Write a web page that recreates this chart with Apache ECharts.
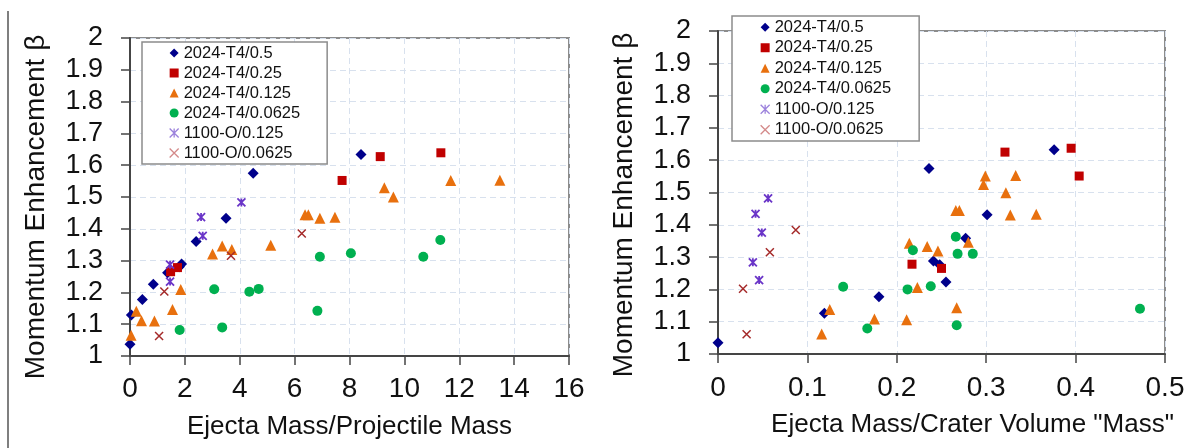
<!DOCTYPE html>
<html>
<head>
<meta charset="utf-8">
<title>Momentum enhancement vs ejecta mass</title>
<script src="https://cdn.jsdelivr.net/npm/echarts@6/dist/echarts.min.js"></script>
<style>
    html, body {margin: 0; padding: 0; background: #fff;}
    #chart {width: 1199px; height: 448px;}
</style>
</head>
<body>
<div id="chart"></div>
<script>
// Series (legend) names
let seriesNames = ['2024-T4/0.5', '2024-T4/0.25', '2024-T4/0.125', '2024-T4/0.0625', '1100-O/0.125', '1100-O/0.0625'];

// Left chart: [ejecta mass / projectile mass, beta]
let leftT4_05 = [[0, 1.037], [0.05, 1.129], [0.45, 1.178], [0.85, 1.226], [1.37, 1.262], [1.8, 1.281], [1.88, 1.289], [2.41, 1.36], [3.5, 1.433], [4.49, 1.575], [8.42, 1.634]];
let leftT4_025 = [[1.48, 1.265], [1.73, 1.278], [7.73, 1.552], [9.12, 1.627], [11.33, 1.639]];
let leftT4_0125 = [[0.04, 1.065], [0.23, 1.141], [0.42, 1.111], [0.89, 1.11], [1.55, 1.146], [1.85, 1.209], [3.01, 1.321], [3.36, 1.346], [3.71, 1.335], [5.13, 1.348], [6.38, 1.444], [6.5, 1.444], [6.92, 1.433], [7.47, 1.436], [9.27, 1.529], [9.6, 1.5], [11.69, 1.552], [13.48, 1.553]];
let leftT4_00625 = [[1.81, 1.082], [3.07, 1.21], [3.36, 1.09], [4.35, 1.202], [4.69, 1.211], [6.83, 1.142], [6.92, 1.312], [8.05, 1.323], [10.69, 1.312], [11.31, 1.365]];
let left1100_0125 = [[1.46, 1.234], [1.46, 1.287], [2.59, 1.437], [2.65, 1.378], [4.06, 1.483]];
let left1100_00625 = [[1.06, 1.063], [1.25, 1.203], [3.68, 1.315], [6.26, 1.385]];

// Right chart: [ejecta mass / crater volume "mass", beta]
let rightT4_05 = [[0, 1.035], [0.119, 1.126], [0.18, 1.177], [0.255, 1.223], [0.241, 1.288], [0.248, 1.276], [0.277, 1.358], [0.301, 1.431], [0.236, 1.574], [0.376, 1.632]];
let rightT4_025 = [[0.217, 1.278], [0.25, 1.265], [0.321, 1.625], [0.395, 1.637], [0.404, 1.551]];
let rightT4_0125 = [[0.116, 1.062], [0.125, 1.138], [0.175, 1.108], [0.211, 1.106], [0.214, 1.343], [0.223, 1.206], [0.234, 1.333], [0.246, 1.319], [0.267, 1.143], [0.266, 1.444], [0.27, 1.444], [0.28, 1.346], [0.297, 1.525], [0.299, 1.551], [0.322, 1.499], [0.327, 1.43], [0.333, 1.553], [0.356, 1.433]];
let rightT4_00625 = [[0.14, 1.208], [0.167, 1.079], [0.212, 1.2], [0.218, 1.321], [0.238, 1.21], [0.266, 1.363], [0.268, 1.31], [0.267, 1.089], [0.285, 1.31], [0.472, 1.14]];
let right1100_0125 = [[0.039, 1.284], [0.046, 1.229], [0.049, 1.376], [0.042, 1.434], [0.056, 1.482]];
let right1100_00625 = [[0.032, 1.061], [0.028, 1.202], [0.058, 1.315], [0.087, 1.384]];

let fontFamily = '"Liberation Sans", Arial, sans-serif';
let axisColor = '#454545';
let textColor = '#111';

// marker look for each series, same order as seriesNames
let markers = [
    {symbol: 'diamond', size: 11, color: '#00008b'},
    {symbol: 'rect', size: 9, color: '#c00000'},
    {symbol: 'triangle', size: 11, color: '#e8700e'},
    {symbol: 'circle', size: 10, color: '#00b050'},
    {symbol: 'path://M0,0L10,10M10,0L0,10M5,0L5,10', size: 8, color: '#6a35c8', stroke: 1.8, legendColor: '#9c82dc'},
    {symbol: 'path://M0,0L10,10M10,0L0,10', size: 8, color: '#a52a2a', stroke: 1.5, legendColor: '#d48a8a'}
];

function buildSeries(datasets, axisIndex) {
    return datasets.map(function (data, i) {
        let m = markers[i];
        let style = {color: m.color, opacity: 1};
        if (m.stroke) {
            style.borderColor = m.color;
            style.borderWidth = m.stroke;
        }
        return {
            name: seriesNames[i],
            type: 'scatter',
            xAxisIndex: axisIndex,
            yAxisIndex: axisIndex,
            symbol: m.symbol,
            symbolSize: m.size,
            itemStyle: style,
            emphasis: {disabled: true},
            data: data
        };
    });
}

// legend entries, the stroked markers look lighter there
let legendData = seriesNames.map(function (name, i) {
    let m = markers[i];
    if (!m.legendColor) {
        return {name: name};
    }
    return {name: name, itemStyle: {color: m.legendColor, borderColor: m.legendColor, borderWidth: 1.3, opacity: 1}};
});

function valueAxis(gridIndex, opts) {
    return Object.assign({
        gridIndex: gridIndex,
        type: 'value',
        axisLine: {show: true, onZero: false, lineStyle: {color: axisColor, width: 2}},
        axisTick: {show: true, inside: false, length: 9, lineStyle: {color: axisColor, width: 1.5}},
        splitLine: {show: true, lineStyle: {color: '#d8e1ee', width: 1, type: [6, 4]}},
        nameLocation: 'middle'
    }, opts);
}

let legendBase = {
    orient: 'vertical',
    selectedMode: false,
    data: legendData,
    itemWidth: 9,
    itemHeight: 9,
    itemGap: 0,
    borderColor: '#8c8c8c',
    borderWidth: 1.5,
    borderRadius: 0,
    backgroundColor: '#fff',
    z: 10
};

let myChart = echarts.init(document.getElementById('chart'));

let option = {
    animation: false,
    backgroundColor: '#fff',
    textStyle: {fontFamily: fontFamily},
    grid: [
        {left: 130, top: 38, width: 439, height: 318, show: true, borderColor: '#8c8c8c', borderWidth: 2, backgroundColor: '#fff'},
        {left: 718, top: 31, width: 447, height: 323, show: true, borderColor: '#8c8c8c', borderWidth: 2, backgroundColor: '#fff'}
    ],
    legend: [
        Object.assign({}, legendBase, {
            left: 142, top: 42,
            padding: [1, 27, 1, 27],
            textStyle: {fontSize: 16.5, lineHeight: 20, color: textColor, fontFamily: fontFamily}
        }),
        Object.assign({}, legendBase, {
            left: 732, top: 16,
            padding: [1, 28, 1, 28],
            textStyle: {fontSize: 16.5, lineHeight: 20.5, color: textColor, fontFamily: fontFamily}
        })
    ],
    xAxis: [
        valueAxis(0, {
            min: 0, max: 16, interval: 2,
            axisLabel: {fontSize: 28, color: textColor, margin: 19, fontFamily: fontFamily},
            name: 'Ejecta Mass/Projectile Mass',
            nameGap: 58,
            nameTextStyle: {fontSize: 26, color: textColor, fontFamily: fontFamily}
        }),
        valueAxis(1, {
            min: 0, max: 0.5, interval: 0.1,
            axisLabel: {fontSize: 28, color: textColor, margin: 20, fontFamily: fontFamily,
                formatter: function (v) { return String(+v.toFixed(1)); }},
            name: 'Ejecta Mass/Crater Volume "Mass"',
            nameGap: 58,
            nameTextStyle: {fontSize: 26, color: textColor, fontFamily: fontFamily, padding: [0, 0, 0, 62]}
        })
    ],
    yAxis: [
        valueAxis(0, {
            min: 1, max: 2, interval: 0.1,
            axisLabel: {fontSize: 27, color: textColor, margin: 27, fontFamily: fontFamily,
                formatter: function (v) { return String(+v.toFixed(1)); }},
            name: 'Momentum Enhancement β',
            nameGap: 80,
            nameTextStyle: {fontSize: 28, color: textColor, fontFamily: fontFamily, padding: [0, 20, 0, 0]}
        }),
        valueAxis(1, {
            min: 1, max: 2, interval: 0.1,
            axisLabel: {fontSize: 27, color: textColor, margin: 27, fontFamily: fontFamily,
                formatter: function (v) { return String(+v.toFixed(1)); }},
            name: 'Momentum Enhancement β',
            nameGap: 80,
            nameTextStyle: {fontSize: 28, color: textColor, fontFamily: fontFamily, padding: [0, 25, 0, 0]}
        })
    ],
    // thin frame edge at the far left of the picture
    graphic: [
        {type: 'line', shape: {x1: 8, y1: 11, x2: 8, y2: 448}, style: {stroke: '#555', lineWidth: 1.5}, silent: true}
    ],
    series: buildSeries([leftT4_05, leftT4_025, leftT4_0125, leftT4_00625, left1100_0125, left1100_00625], 0)
        .concat(buildSeries([rightT4_05, rightT4_025, rightT4_0125, rightT4_00625, right1100_0125, right1100_00625], 1))
};

myChart.setOption(option);
</script>
</body>
</html>
